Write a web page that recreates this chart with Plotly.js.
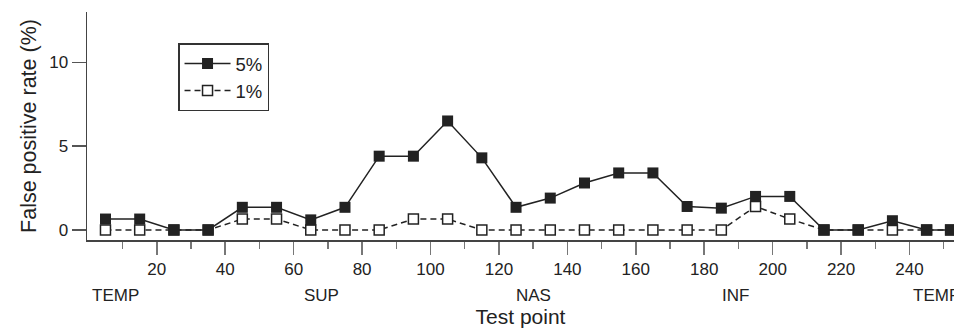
<!DOCTYPE html>
<html>
<head>
<meta charset="utf-8">
<script src="https://cdn.plot.ly/plotly-3.0.1.min.js"></script>
<style>html,body{margin:0;padding:0;background:#fff;}#chart{width:954px;height:331px;}</style>
</head>
<body>
<div id="chart"></div>
<script>
const testPoints = [5,15,25,35,45,55,65,75,85,95,105,115,125,135,145,155,165,175,185,195,205,215,225,235,245,252];
const rate5 = [0.65,0.65,0,0,1.35,1.35,0.6,1.35,4.4,4.4,6.5,4.3,1.35,1.9,2.8,3.4,3.4,1.4,1.3,2.0,2.0,0,0,0.55,0,0];
const rate1 = [0,0,0,0,0.65,0.65,0,0,0,0.65,0.65,0,0,0,0,0,0,0,0,1.4,0.65,0,0,0,0,0];
const seriesNames = ['5%', '1%'];
const xTicks = [20,40,60,80,100,120,140,160,180,200,220,240];
const xMinorTicks = [10,30,50,70,90,110,130,150,170,190,210,230,250];
const yTicks = [0,5,10];
const regionLabels = ['TEMP','SUP','NAS','INF','TEMP'];
const regionPos = [8,68,130,189,248];

const ink = '#222';
const font = 'Liberation Sans, Arial, Helvetica, sans-serif';

const traces = [
  {
    x: testPoints, y: rate1, name: seriesNames[1], type: 'scatter', mode: 'lines+markers',
    line: {color: ink, width: 1.5, dash: '6px,4px'},
    marker: {symbol: 'square', size: 10, color: '#fff', line: {color: ink, width: 1.5}},
    cliponaxis: false, legendrank: 2
  },
  {
    x: testPoints, y: rate5, name: seriesNames[0], type: 'scatter', mode: 'lines+markers',
    line: {color: ink, width: 1.5},
    marker: {symbol: 'square', size: 11, color: ink, line: {color: ink, width: 0}},
    cliponaxis: false, legendrank: 1
  }
];

const annotations = regionLabels.map((t, i) => ({
  x: regionPos[i], xref: 'x', y: -0.243, yref: 'paper',
  text: t, showarrow: false, xanchor: 'center', yanchor: 'middle',
  font: {family: font, size: 17, color: ink}
}));

const layout = {
  width: 954, height: 331,
  margin: {l: 87, r: 0, t: 12, b: 91},
  paper_bgcolor: '#fff', plot_bgcolor: '#fff',
  font: {family: font, color: ink},
  showlegend: true,
  legend: {
    x: 0.105, y: 0.862, xanchor: 'left', yanchor: 'top',
    bordercolor: '#333', borderwidth: 1.5, bgcolor: '#fff',
    font: {family: font, size: 18.5, color: ink},
    itemwidth: 46,
    tracegroupgap: 0
  },
  xaxis: {
    range: [-0.4, 253], showgrid: false, zeroline: false,
    showline: true, linecolor: '#444', linewidth: 1.5,
    tickmode: 'array', tickvals: xTicks, ticks: 'outside', ticklen: 13, tickwidth: 1.5, tickcolor: '#777',
    tickfont: {family: font, size: 17, color: ink},
    minor: {tickmode: 'array', tickvals: xMinorTicks, ticks: 'outside', ticklen: 7, tickwidth: 1.5, tickcolor: '#777', showgrid: false},
    title: {text: 'Test point', font: {family: font, size: 21, color: ink}, standoff: 31}
  },
  yaxis: {
    range: [-0.6, 13], showgrid: false, zeroline: false,
    showline: true, linecolor: '#444', linewidth: 1.5,
    tickmode: 'array', tickvals: yTicks, ticks: 'outside', ticklen: 14, tickwidth: 1.5, tickcolor: '#555',
    tickfont: {family: font, size: 17, color: ink},
    title: {text: 'False positive rate (%)', font: {family: font, size: 21.5, color: ink}, standoff: 6}
  },
  annotations: annotations
};

Plotly.newPlot('chart', traces, layout, {displayModeBar: false, staticPlot: true});
</script>
</body>
</html>
